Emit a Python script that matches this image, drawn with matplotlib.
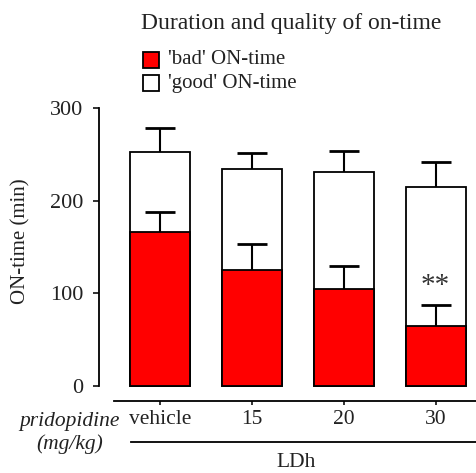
import matplotlib
matplotlib.use("Agg")
import matplotlib.pyplot as plt
from matplotlib.patches import Rectangle
from matplotlib.lines import Line2D

groups = ["vehicle", "15", "20", "30"]
total_on = [253, 234, 231.5, 215]      # 'good' + 'bad' ON-time
total_err = [26, 18, 22.5, 26.5]
bad_on = [166.5, 125, 105, 65]
bad_err = [22, 28, 24.5, 22.5]

RED = "#ff0000"
INK = "#222222"
plt.rcParams["font.family"] = ["Liberation Serif", "DejaVu Serif"]

fig = plt.figure(figsize=(4.76, 4.73), dpi=100)
ax = fig.add_axes([99 / 476, 1 - 401.3 / 473, 1 - 99 / 476, 293 / 473])
x = list(range(len(groups)))
w = 0.653
cap = 0.163

ax.bar(x, total_on, w, color="white", edgecolor="black", lw=1.3, zorder=2)
ax.bar(x, bad_on, w, color=RED, edgecolor="black", lw=1.3, zorder=3)
for xi, v, e in zip(x, total_on, total_err):
    ax.vlines(xi, v, v + e, color="black", lw=1.5, zorder=1)
    ax.hlines(v + e, xi - cap, xi + cap, color="black", lw=2, zorder=1)
for xi, v, e in zip(x, bad_on, bad_err):
    ax.vlines(xi, v, v + e, color="black", lw=1.5, zorder=4)
    ax.hlines(v + e, xi - cap, xi + cap, color="black", lw=2, zorder=4)
ax.text(3, bad_on[3] + bad_err[3] + 6, "**", ha="center", va="bottom",
        fontsize=21, color="#333333")

ax.set_xlim(-0.664, 3.44)
ax.set_ylim(-16.5, 300)
ax.set_yticks([0, 100, 200, 300])
ax.set_xticks(x)
ax.set_xticklabels(groups, fontsize=15.5)
ax.tick_params(axis="y", labelsize=16, length=4.5, width=1.3, pad=7, colors=INK)
ax.tick_params(axis="x", direction="out", length=3, width=1.3, pad=3, colors=INK)
for s in ["top", "right"]:
    ax.spines[s].set_visible(False)
ax.spines["left"].set_bounds(0, 300)
ax.spines["left"].set_linewidth(1.3)
ax.spines["bottom"].set_bounds(-0.5, 3.44)
ax.spines["bottom"].set_linewidth(1.3)
fig.text(21 / 476, 1 - 241.5 / 473, "ON-time (min)", rotation=90, ha="center",
         va="center", fontsize=15, color=INK)

# second x-axis line + group label
fig.add_artist(Line2D([131 / 476, 1.0], [1 - 441.7 / 473] * 2, color="black", lw=1.3))
fig.text(296 / 476, 1 - 462 / 473, "LDh", ha="center", va="center", fontsize=15.5,
         color=INK)
fig.text(120 / 476, 1 - 421 / 473, "pridopidine", ha="right", va="center",
         fontsize=15.5, style="italic", color=INK)
fig.text(70 / 476, 1 - 444 / 473, "(mg/kg)", ha="center", va="center",
         fontsize=15.5, style="italic", color=INK)

# title and legend
fig.text(291.5 / 476, 1 - 24 / 473, "Duration and quality of on-time",
         ha="center", va="center", fontsize=17, color=INK)
for yy, fc, lab in [(60, RED, "'bad' ON-time"), (83.5, "white", "'good' ON-time")]:
    fig.add_artist(Rectangle((143 / 476, 1 - (yy + 8) / 473), 16 / 476, 16 / 473,
                             facecolor=fc, edgecolor="black", lw=1.3,
                             transform=fig.transFigure))
    fig.text(168 / 476, 1 - yy / 473, lab, ha="left", va="center", fontsize=15,
             color=INK)

fig.savefig("out.png", dpi=100)
